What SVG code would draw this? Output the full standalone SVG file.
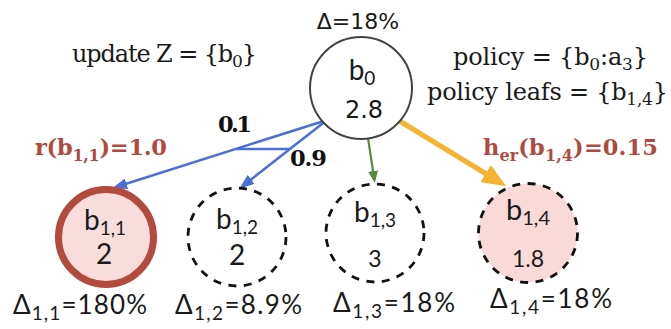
<svg xmlns="http://www.w3.org/2000/svg" width="671" height="329" viewBox="0 0 671 329">
<defs>
<style>
.ser{font-family:"DejaVu Serif","Liberation Serif",serif;font-size:24px;fill:#1a1a1a}
.bold{font-family:"DejaVu Serif","Liberation Serif",serif;font-size:22.5px;font-weight:bold}
.red{fill:#b04a40}
.blk{fill:#111}
.lab{font-family:Lato,"Open Sans",sans-serif;fill:#1a1a1a}
.dv{font-family:"DejaVu Sans",sans-serif;fill:#1a1a1a}
.dash{fill:none;stroke:#111;stroke-width:2.8;stroke-dasharray:8 7.5}
.blue{stroke:#4a6fd6;stroke-width:2.5;fill:none}
</style>
<marker id="mb" markerUnits="userSpaceOnUse" markerWidth="15" markerHeight="11" refX="11" refY="5.5" orient="auto"><path d="M0,0 L15,5.5 L0,11 Z" fill="#4a6fd6"/></marker>
<marker id="mg" markerUnits="userSpaceOnUse" markerWidth="12" markerHeight="10" refX="9" refY="5" orient="auto"><path d="M0,0 L12,5 L0,10 Z" fill="#5a8a3c"/></marker>
<marker id="mo" markerUnits="userSpaceOnUse" markerWidth="24" markerHeight="20" refX="18" refY="10" orient="auto"><path d="M0,0 L24,10 L0,20 Z" fill="#f6b232"/></marker>
</defs>
<rect width="671" height="329" fill="#fff"/>

<g id="annotations">
<text class="ser" x="72" y="62" textLength="185">update Z = {b<tspan font-size="17" dy="5">0</tspan><tspan dy="-5">}</tspan></text>
<text class="ser" x="453" y="65" textLength="195">policy = {b<tspan font-size="17" dy="5">0</tspan><tspan dy="-5">:a</tspan><tspan font-size="17" dy="5">3</tspan><tspan dy="-5">}</tspan></text>
<text class="ser" x="427" y="100" textLength="241">policy leafs = {b<tspan font-size="17" dy="5">1,4</tspan><tspan dy="-5">}</tspan></text>
<text class="bold red" x="35" y="155" textLength="132">r(b<tspan font-size="16" dy="6">1,1</tspan><tspan dy="-6">)=1.0</tspan></text>
<text class="bold red" x="483" y="155" textLength="175">h<tspan font-size="16" dy="6">er</tspan><tspan dy="-6">(b</tspan><tspan font-size="16" dy="6">1,4</tspan><tspan dy="-6">)=0.15</tspan></text>
</g>

<g id="connectors">
<line class="blue" x1="327" y1="120" x2="116" y2="187" marker-end="url(#mb)"/>
<line class="blue" x1="327" y1="120" x2="242.4" y2="186.2" marker-end="url(#mb)"/>
<line class="blue" x1="236" y1="149" x2="290" y2="149"/>
<text class="bold blk" x="218" y="132" textLength="34">0.1</text>
<text class="bold blk" x="290" y="166" textLength="37">0.9</text>
<line x1="368" y1="138" x2="374.4" y2="180" stroke="#5a8a3c" stroke-width="2.2" marker-end="url(#mg)"/>
<line x1="398" y1="120" x2="501" y2="183" stroke="#f6b232" stroke-width="5" marker-end="url(#mo)"/>
</g>

<g id="b0">
<circle cx="361" cy="88" r="51" fill="#fff" stroke="#444" stroke-width="2"/>
<text class="dv" x="358" y="29" font-size="22" text-anchor="middle">Δ=18%</text>
<text class="lab" x="362" y="80" font-size="28" text-anchor="middle">b<tspan font-size="19" dy="5">0</tspan></text>
<text class="dv" x="364" y="118" font-size="24" text-anchor="middle">2.8</text>
</g>

<g id="b11">
<circle cx="106" cy="237" r="47.5" fill="#f9dcdc" stroke="#b24a3e" stroke-width="7"/>
<text class="lab" x="105" y="230" font-size="28" text-anchor="middle">b<tspan font-size="19" dy="5">1,1</tspan></text>
<text class="lab" x="104" y="264" font-size="28" text-anchor="middle">2</text>
<text class="lab" x="13" y="314" font-size="26" textLength="134">Δ<tspan font-size="19" dy="6">1,1</tspan><tspan dy="-6">=180%</tspan></text>
</g>

<g id="b12">
<circle class="dash" cx="237" cy="237" r="49"/>
<text class="lab" x="237" y="229" font-size="28" text-anchor="middle">b<tspan font-size="19" dy="5">1,2</tspan></text>
<text class="lab" x="237" y="265" font-size="28" text-anchor="middle">2</text>
<text class="lab" x="175" y="314" font-size="26" textLength="127">Δ<tspan font-size="19" dy="6">1,2</tspan><tspan dy="-6">=8.9%</tspan></text>
</g>

<g id="b13">
<circle class="dash" cx="375" cy="233" r="49"/>
<text class="lab" x="375" y="222" font-size="28" text-anchor="middle">b<tspan font-size="19" dy="5">1,3</tspan></text>
<text class="lab" x="375" y="267" font-size="23" text-anchor="middle">3</text>
<text class="lab" x="333" y="312" font-size="26" textLength="122">Δ<tspan font-size="19" dy="6">1,3</tspan><tspan dy="-6">=18%</tspan></text>
</g>

<g id="b14">
<circle class="dash" cx="528" cy="233" r="49.5" style="fill:#fad9d9"/>
<text class="lab" x="528" y="220" font-size="29" text-anchor="middle">b<tspan font-size="20" dy="5">1,4</tspan></text>
<text class="lab" x="528" y="267" font-size="23" text-anchor="middle">1.8</text>
<text class="lab" x="490" y="308" font-size="26" textLength="122">Δ<tspan font-size="19" dy="6">1,4</tspan><tspan dy="-6">=18%</tspan></text>
</g>
</svg>
